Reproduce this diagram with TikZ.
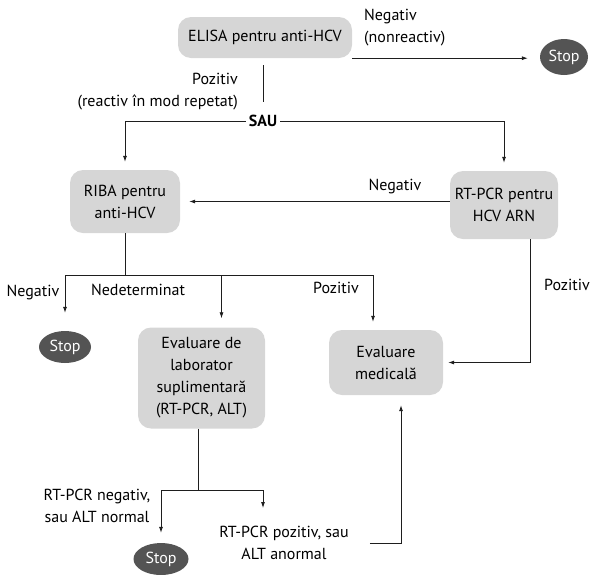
\documentclass[tikz,border=0pt]{standalone}
\usepackage{fontspec}
\setmainfont{PT Sans}
\usetikzlibrary{arrows.meta,shapes.geometric}

\definecolor{boxgray}{RGB}{214,214,214}
\definecolor{stopgray}{RGB}{84,84,84}
\definecolor{linegray}{RGB}{30,30,30}

\tikzset{
  box/.style={fill=boxgray, rounded corners=13pt, align=center, inner sep=2pt},
  stopnode/.style={ellipse, fill=stopgray, text=white, inner sep=0pt,
    minimum width=52pt, minimum height=32pt},
  lbl/.style={inner sep=2pt},
  conn/.style={draw=linegray, line width=0.8pt},
  arr/.style={conn, -{Latex[length=6pt,width=4pt]}},
}

\begin{document}
\begin{tikzpicture}[x=1pt,y=-1pt,font=\fontsize{16}{22}\selectfont]
  \useasboundingbox (0,0) rectangle (593,574);

  % boxes
  \node[box, minimum width=174pt, minimum height=41pt] (elisa) at (265,37.5) {ELISA pentru anti-HCV};
  \node[stopnode, minimum width=48pt, minimum height=36pt] (stoptop) at (564,57) {Stop};
  \node[font=\fontsize{16}{16}\selectfont\bfseries, inner xsep=3pt, inner ysep=4pt] (sau) at (263,121) {SAU};
  \node[box, minimum width=110pt, minimum height=63pt] (riba) at (125,201.5) {RIBA pentru\\anti-HCV};
  \node[box, minimum width=108pt, minimum height=68pt] (rtpcr) at (504,205) {RT-PCR pentru\\HCV ARN};
  \node[stopnode] (stopleft) at (65,347) {Stop};
  \node[box, minimum width=127pt, minimum height=101pt] (evlab) at (201.5,378) {Evaluare de\\laborator\\suplimentară\\(RT-PCR, ALT)};
  \node[box, minimum width=114pt, minimum height=65pt] (evmed) at (386,362.5) {Evaluare\\medicală};
  \node[stopnode, minimum width=55pt] (stopbot) at (161,559) {Stop};

  % labels
  \node[lbl, anchor=west, align=left] (negelisa) at (362,28) {Negativ\\(nonreactiv)};
  \node[lbl, anchor=east, align=right] (pozelisa) at (240,92) {Pozitiv\\(reactiv în mod repetat)};
  \node[lbl] (negrt) at (395,186) {Negativ};
  \node[lbl] (pozrt) at (567,285) {Pozitiv};
  \node[lbl] (negriba) at (33,292) {Negativ};
  \node[lbl] (nedriba) at (138,290) {Nedeterminat};
  \node[lbl] (pozriba) at (336,288) {Pozitiv};
  \node[lbl, align=center] (negevlab) at (97,506) {RT-PCR negativ,\\sau ALT normal};
  \node[lbl, align=center] (pozevlab) at (284,543) {RT-PCR pozitiv, sau\\ALT anormal};

  % junctions
  \coordinate (ribajoin) at (125,275);
  \coordinate (evlabjoin) at (198,490);
  \coordinate (pozend) at (263,508);

  % connectors
  \draw[arr, shorten >=12pt] (elisa.south east) -- (elisa.south east -| stoptop.west);
  \draw[conn, shorten <=7pt, shorten >=9pt] (sau.north |- elisa.south) -- (sau.north);
  \draw[arr, shorten >=8pt] (sau.west) -| (riba.north);
  \draw[arr, shorten >=8pt] (sau.east) -| (rtpcr.north);
  \draw[arr, shorten >=9pt] (rtpcr.west |- riba.east) -- (riba.east);
  \draw[arr, shorten >=5pt] ([xshift=26pt]rtpcr.south) |- (evmed.east);

  \draw[conn] (riba.south) -- (ribajoin);
  \draw[arr, shorten >=18pt] (ribajoin) -| (stopleft.north);
  \draw[arr, shorten >=9pt] (ribajoin) -| ([xshift=20pt]evlab.north);
  \draw[arr, shorten >=8pt] (ribajoin) -| ([xshift=-13pt]evmed.north);

  \draw[conn] ([xshift=-3.5pt]evlab.south) -- (evlabjoin);
  \draw[arr, shorten >=10pt] (evlabjoin) -| (stopbot.north);
  \draw[arr] (evlabjoin) -| (pozend);
  \draw[arr, shorten <=19pt, shorten >=10pt] (pozevlab.east) -| ([xshift=15pt]evmed.south);
\end{tikzpicture}
\end{document}
